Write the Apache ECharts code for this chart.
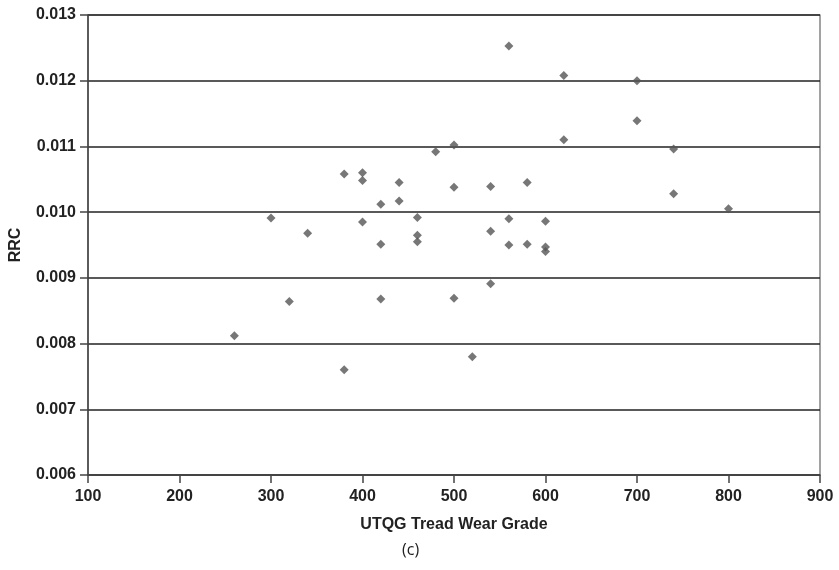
<!DOCTYPE html>
<html><head><meta charset="utf-8">
<script src="https://cdn.jsdelivr.net/npm/echarts@6/dist/echarts.min.js"></script>
<style>html,body{margin:0;padding:0;background:#fff}#c{width:839px;height:570px}</style>
</head><body><div id="c"></div>
<script>
const treadWear = [260,320,300,340,380,380,400,400,400,420,420,420,440,440,460,460,460,480,500,500,500,520,540,540,540,560,560,560,580,580,600,600,600,620,620,700,700,740,740,800];
const rrc = [0.00812,0.00864,0.00991,0.00968,0.01058,0.00760,0.01060,0.01048,0.00985,0.01012,0.00951,0.00868,0.01045,0.01017,0.00992,0.00965,0.00955,0.01092,0.01102,0.01038,0.00869,0.00780,0.01039,0.00971,0.00891,0.01253,0.00990,0.00950,0.01045,0.00951,0.00986,0.00947,0.00940,0.01208,0.01110,0.01200,0.01139,0.01096,0.01028,0.01005];
const points = treadWear.map((x,i)=>[x,rrc[i]]);
const chart = echarts.init(document.getElementById('c'));
const font = 'Liberation Sans, Arial, sans-serif';
chart.setOption({
  animation:false,
  grid:{left:87,right:19,top:15,bottom:95,show:true,borderColor:'#666',borderWidth:1.2,backgroundColor:'transparent'},
  xAxis:{type:'value',min:100,max:900,interval:100,
    name:'UTQG Tread Wear Grade',nameLocation:'middle',nameGap:42,
    nameTextStyle:{fontFamily:font,fontWeight:'bold',fontSize:16,color:'#222'},
    axisLine:{show:true,lineStyle:{color:'#444',width:1.5}},
    axisTick:{show:true,length:8,lineStyle:{color:'#444',width:1.5}},
    axisLabel:{fontFamily:font,fontWeight:'bold',fontSize:16,color:'#222',margin:14},
    splitLine:{show:false}},
  yAxis:{type:'value',min:0.006,max:0.013,interval:0.001,
    name:'RRC',nameLocation:'middle',nameGap:64,nameRotate:90,
    nameTextStyle:{fontFamily:font,fontWeight:'bold',fontSize:16,color:'#222'},
    axisLine:{show:true,lineStyle:{color:'#444',width:1.5}},
    axisTick:{show:true,length:8,lineStyle:{color:'#444',width:1.5}},
    axisLabel:{fontFamily:font,fontWeight:'bold',fontSize:16,color:'#222',margin:12,formatter:v=>v.toFixed(3)},
    splitLine:{show:true,lineStyle:{color:'#222',width:1.5}}},
  series:[{type:'scatter',data:points,symbol:'diamond',symbolSize:9,itemStyle:{color:'#555'}}],
  graphic:[{type:'text',left:402,top:542,style:{text:'(c)',fontFamily:'Open Sans, sans-serif',fontSize:16,fill:'#222'}}]
});
</script></body></html>
